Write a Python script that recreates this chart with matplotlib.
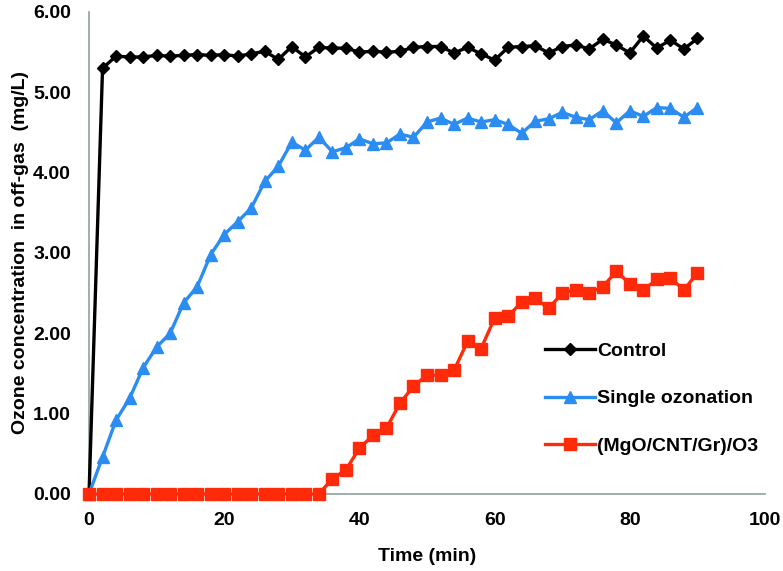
import matplotlib
matplotlib.use("Agg")
import matplotlib.pyplot as plt

plt.rcParams['font.family'] = ['Liberation Sans Narrow', 'Liberation Sans', 'DejaVu Sans']
plt.rcParams['font.weight'] = 'bold'

# Time (min), one reading every 2 min
time = list(range(0, 92, 2))

control = [0.00, 5.30, 5.45, 5.44, 5.44, 5.46, 5.45, 5.46, 5.47, 5.46,
           5.47, 5.45, 5.48, 5.51, 5.41, 5.57, 5.44, 5.56, 5.55, 5.55,
           5.50, 5.51, 5.50, 5.51, 5.56, 5.57, 5.57, 5.49, 5.56, 5.48,
           5.40, 5.56, 5.57, 5.58, 5.49, 5.57, 5.59, 5.54, 5.66, 5.59,
           5.49, 5.70, 5.55, 5.65, 5.54, 5.67]

single = [0.00, 0.46, 0.92, 1.19, 1.57, 1.83, 2.00, 2.38, 2.58, 2.98,
          3.23, 3.39, 3.56, 3.89, 4.08, 4.38, 4.28, 4.44, 4.26, 4.31,
          4.42, 4.36, 4.37, 4.48, 4.44, 4.63, 4.68, 4.60, 4.68, 4.63,
          4.66, 4.60, 4.49, 4.64, 4.67, 4.75, 4.69, 4.66, 4.77, 4.62,
          4.77, 4.70, 4.81, 4.80, 4.69, 4.81]

catalyst = [0.00, 0.00, 0.00, 0.00, 0.00, 0.00, 0.00, 0.00, 0.00, 0.00,
            0.00, 0.00, 0.00, 0.00, 0.00, 0.00, 0.00, 0.00, 0.19, 0.30,
            0.57, 0.73, 0.82, 1.13, 1.34, 1.48, 1.48, 1.54, 1.90, 1.81,
            2.19, 2.21, 2.39, 2.44, 2.31, 2.50, 2.54, 2.50, 2.58, 2.77,
            2.62, 2.54, 2.67, 2.69, 2.54, 2.75]

fig = plt.figure(figsize=(7.83, 5.71), dpi=100)
ax = fig.add_axes([0.1137, 0.1349, 0.8633, 0.8441])

ax.plot(time, control, color='black', lw=2.4, marker='D', ms=6.5,
        label='Control', clip_on=False, zorder=3)
ax.plot(time, single, color='#2b8cf2', lw=2.4, marker='^', ms=8,
        label='Single ozonation', clip_on=False, zorder=4)
ax.plot(time, catalyst, color='#ff2a0a', lw=2.4, marker='s', ms=8,
        label='(MgO/CNT/Gr)/O3', clip_on=False, zorder=5)

ax.set_xlim(0, 100)
ax.set_ylim(0, 6)
ax.set_xticks([0, 20, 40, 60, 80, 100])
ax.set_yticks([0, 1, 2, 3, 4, 5, 6])
ax.set_yticklabels(['%.2f' % v for v in ax.get_yticks()])
ax.tick_params(length=0, labelsize=14, pad=13)

for side in ['top', 'right']:
    ax.spines[side].set_visible(False)
for side in ['left', 'bottom']:
    ax.spines[side].set_color('#9aa8a8')
    ax.spines[side].set_linewidth(1.3)

ax.set_xlabel('Time (min)', fontsize=14, fontweight='bold', labelpad=14)
ax.set_ylabel('Ozone concentration  in off-gas  (mg/L)', fontsize=14,
              fontweight='bold', labelpad=3)

ax.legend(loc='center left', bbox_to_anchor=(0.683, 0.302),
          bbox_transform=fig.transFigure, frameon=False, fontsize=14,
          handlelength=2.6, handletextpad=0.1, labelspacing=1.55,
          borderpad=0)

fig.savefig('out.png', dpi=100)
